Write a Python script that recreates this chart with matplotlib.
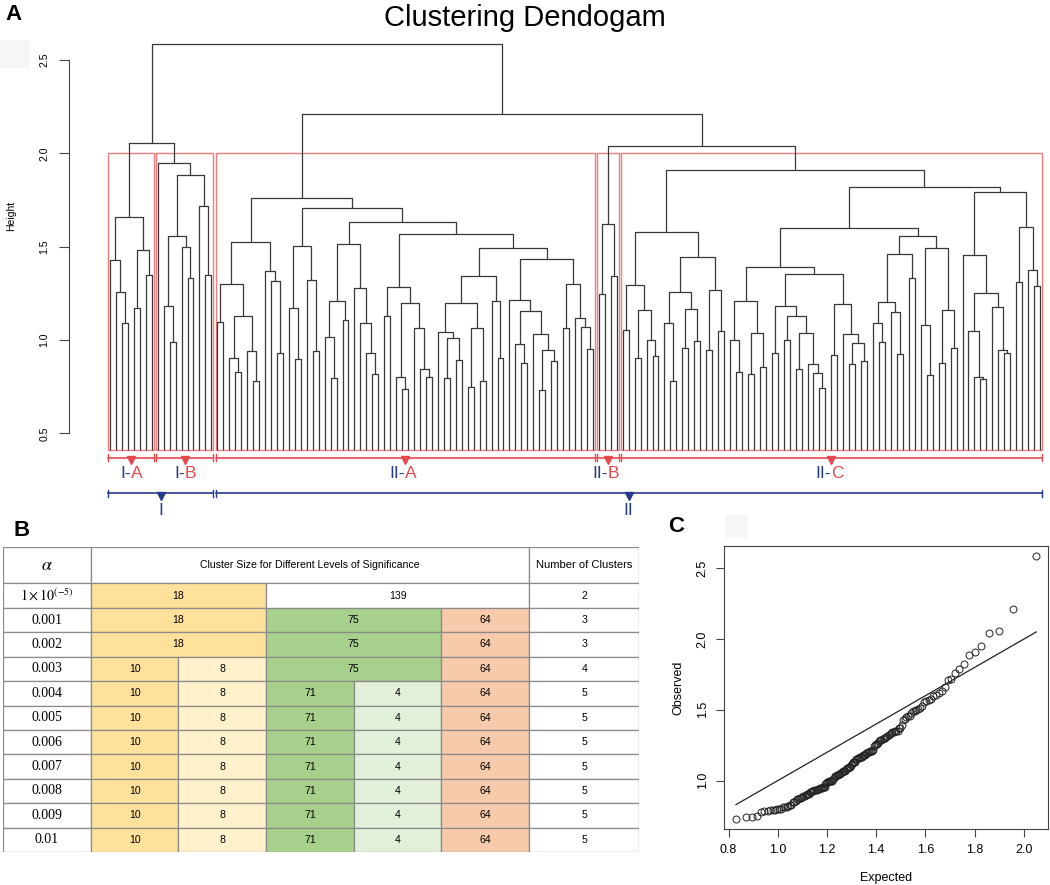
import numpy as np
import matplotlib.pyplot as plt
from matplotlib.patches import Rectangle
from matplotlib.collections import LineCollection
from statistics import NormalDist

plt.rcParams['font.family'] = ['Liberation Sans', 'DejaVu Sans']

# ---------------- data ----------------
# dendrogram subtrees: node = [height, left, right], leaf = 0
tree_IA = [1.66, [1.43, 0, [1.26, 0, [1.09, 0, 0]]],
                 [1.48, [1.17, 0, 0], [1.35, 0, 0]]]
tree_IB = [1.95, 0,
           [1.886, [1.56, [1.18, 0, [0.99, 0, 0]], [1.50, 0, [1.33, 0, 0]]],
                   [1.72, 0, [1.35, 0, 0]]]]

a_left = [1.527,
          [1.30, [1.098, 0, 0],
                 [1.129, [0.906, 0, [0.83, 0, 0]], [0.941, 0, [0.78, 0, 0]]]],
          [1.37, 0, [1.318, 0, [0.93, 0, 0]]]]
a_6 = [1.504, [1.17, 0, [0.90, 0, 0]], [1.32, 0, [0.94, 0, 0]]]
a_10 = [1.515, [1.21, [1.018, 0, [0.795, 0, 0]], [1.107, 0, 0]],
               [1.277, 0, [1.093, 0, [0.932, 0, [0.816, 0, 0]]]]]
a_9 = [1.286, [1.13, 0, 0],
              [1.197, [0.80, 0, [0.74, 0, 0]], [1.066, 0, [0.846, 0, [0.80, 0, 0]]]]]
a_12 = [1.343, [1.20, [1.045, 0, [1.013, [0.795, 0, 0], [0.893, 0, 0]]],
                      [1.066, [0.747, 0, 0], [0.782, 0, 0]]],
               [1.209, 0, [0.902, 0, 0]]]
a_15 = [1.432, [1.214, 0, [1.156, [0.979, 0, [0.879, 0, 0]],
                                  [1.03, 0, [0.947, [0.732, 0, 0], [0.89, 0, 0]]]]],
               [1.298, [1.063, 0, 0], [1.116, 0, [1.068, 0, [0.952, 0, 0]]]]]
tree_IIA = [1.76, a_left, [1.71, a_6, [1.63, a_10, [1.57, a_9, [1.491, a_12, a_15]]]]]

tree_IIB = [1.62, [1.245, 0, 0], [1.345, 0, 0]]

c_7 = [1.295, [1.054, 0, 0], [1.161, [0.902, 0, 0], [1.00, 0, [0.916, 0, 0]]]]
c_11 = [1.446, [1.259, [1.093, 0, [0.782, 0, 0]], [1.164, [0.955, 0, 0], [0.996, 0, 0]]],
               [1.268, [0.946, 0, 0], [1.048, 0, 0]]]
c_24 = [1.393,
        [1.211, [1.00, 0, [0.83, 0, 0]], [1.04, [0.816, 0, 0], [0.857, 0, 0]]],
        [1.354,
         [1.184, [0.932, 0, 0],
                 [1.129, [1.00, 0, 0],
                         [1.039, [0.846, 0, 0], [0.871, 0, [0.821, 0, [0.741, 0, 0]]]]]],
         [1.193, [0.918, 0, 0], [1.032, 0, [0.986, [0.87, 0, 0], [0.887, 0, 0]]]]]]
c_15 = [1.557,
        [1.459, [1.202, [1.089, 0, [0.987, 0, 0]], [1.152, 0, [0.923, 0, 0]]], [1.334, 0, 0]],
        [1.495, [1.08, 0, [0.813, 0, 0]], [1.161, [0.879, 0, 0], [0.955, 0, 0]]]]
c_14 = [1.791,
        [1.455, 0, [1.254, [1.05, 0, [0.80, 0, [0.79, 0, 0]]],
                           [1.179, 0, [0.946, 0, [0.929, 0, 0]]]]],
        [1.607, [1.309, 0, 0], [1.375, 0, [1.289, 0, 0]]]]
tree_IIC = [1.911, [1.58, c_7, c_11], [1.821, [1.598, c_24, c_15], c_14]]

h_I = 2.057
h_BC = 2.04
h_II = 2.21
h_root = 2.586
cut_height = 2.0

cluster_names = ['I-A', 'I-B', 'II-A', 'II-B', 'II-C']
cluster_trees = [tree_IA, tree_IB, tree_IIA, tree_IIB, tree_IIC]
group_names = ['I', 'II']
group_members = [[0, 1], [2, 3, 4]]

# table (panel B)
alpha_labels = [r'$1\times10^{(-5)}$', '0.001', '0.002', '0.003', '0.004', '0.005',
                '0.006', '0.007', '0.008', '0.009', '0.01']
size_rows = [[18, 139], [18, 75, 64], [18, 75, 64], [10, 8, 75, 64]] + [[10, 8, 71, 4, 64]] * 7
span_rows = [[2, 3], [2, 2, 1], [2, 2, 1], [1, 1, 2, 1]] + [[1, 1, 1, 1, 1]] * 7
n_clusters = [2, 3, 3, 4, 5, 5, 5, 5, 5, 5, 5]
size_colors = {18: '#fee29b', 10: '#fee29b', 8: '#fff1cc', 75: '#a8d08d', 71: '#a8d08d',
               4: '#e2efd9', 64: '#f7caac', 139: 'white'}

# QQ reference distribution (log-normal)
qq_mu = 0.266
qq_sigma = 0.1815

# ---------------- figure ----------------
W, H = 1050, 885
fig = plt.figure(figsize=(W / 100, H / 100), dpi=100)
red = '#e5484d'
box_red = '#f27c7c'
blue = '#26398c'

root = [h_root, [h_I, tree_IA, tree_IB], [h_II, tree_IIA, [h_BC, tree_IIB, tree_IIC]]]
leaf_base = 0.41

segs = []
heights = []
counter = [0]


def walk(node):
    if node == 0:
        counter[0] += 1
        return counter[0], leaf_base
    h, left, right = node
    xl, hl = walk(left)
    xr, hr = walk(right)
    segs.append([(xl, hl), (xl, h), (xr, h), (xr, hr)])
    heights.append(h)
    return (xl + xr) / 2, h


def n_leaves(node):
    return 1 if node == 0 else n_leaves(node[1]) + n_leaves(node[2])


walk(root)
n_total = counter[0]

# ---- panel A ----
axA = fig.add_axes([69 / W, 1 - 520 / H, 979 / W, 490 / H])
axA.add_collection(LineCollection(segs, colors='#383838', linewidths=0.9))
axA.set_xlim(-5.88, n_total + 1.34)
axA.set_ylim(0.036, 2.661)
for s in ['top', 'right', 'bottom']:
    axA.spines[s].set_visible(False)
axA.spines['left'].set_bounds(0.5, 2.5)
axA.spines['left'].set_color('#444444')
axA.set_xticks([])
axA.set_yticks([0.5, 1.0, 1.5, 2.0, 2.5])
axA.set_yticklabels(['0.5', '1.0', '1.5', '2.0', '2.5'], rotation=90, va='center', fontsize=7.5)
axA.tick_params(axis='y', length=7, pad=7, color='#444444')
axA.set_ylabel('Height', fontsize=7.5)
axA.yaxis.set_label_coords(-0.054, 0.62)

spans = []
start = 1
for t in cluster_trees:
    n = n_leaves(t)
    spans.append((start - 0.3, start + n - 1 + 0.3))
    start += n

y_br = 0.37
y_lab = 0.283
y_gbr = 0.178
y_glab = 0.088
tick_h = 0.02
for name, (a, b) in zip(cluster_names, spans):
    axA.add_patch(Rectangle((a, leaf_base), b - a, cut_height - leaf_base, fill=False,
                            edgecolor=box_red, linewidth=1.0))
    axA.plot([a, b], [y_br, y_br], color=red, lw=1.2)
    axA.plot([a, a], [y_br - tick_h, y_br + tick_h], color=red, lw=1.0)
    axA.plot([b, b], [y_br - tick_h, y_br + tick_h], color=red, lw=1.0)
    xc = (a + b) / 2
    axA.plot(xc, y_br - 0.013, marker='v', color=red, markersize=6)
    pre, suf = name.split('-')
    axA.text(xc, y_lab, pre + '-', color=blue, ha='right', va='center', fontsize=12.5)
    axA.text(xc, y_lab, suf, color=red, ha='left', va='center', fontsize=12.5)

for gname, members in zip(group_names, group_members):
    a = spans[members[0]][0]
    b = spans[members[-1]][1]
    axA.plot([a, b], [y_gbr, y_gbr], color=blue, lw=1.2)
    axA.plot([a, a], [y_gbr - tick_h, y_gbr + tick_h], color=blue, lw=1.0)
    axA.plot([b, b], [y_gbr - tick_h, y_gbr + tick_h], color=blue, lw=1.0)
    xc = (a + b) / 2
    axA.plot(xc, y_gbr - 0.013, marker='v', color=blue, markersize=6)
    axA.text(xc, y_glab, gname, color=blue, ha='center', va='center', fontsize=12.5)

fig.text(0.5, 1 - 18 / H, 'Clustering Dendogam', ha='center', va='center', fontsize=21)

# ---- panel B: table ----
axT = fig.add_axes([2.7 / W, 1 - 852 / H, 636.6 / W, 305.3 / H])
col_w = [88.0] + [87.7] * 5 + [110.1]
row_h = [36.7] + [24.4] * len(alpha_labels)
xe = np.concatenate([[0], np.cumsum(col_w)])
ye = np.concatenate([[0], np.cumsum(row_h)])
axT.set_xlim(0, xe[-1])
axT.set_ylim(ye[-1], 0)
axT.axis('off')
grid = '#8a8a8a'


def cell(c0, c1, r, txt, color='white', **kw):
    axT.add_patch(Rectangle((xe[c0], ye[r]), xe[c1] - xe[c0], ye[r + 1] - ye[r],
                            facecolor=color, edgecolor=grid, linewidth=0.9))
    axT.text((xe[c0] + xe[c1]) / 2, (ye[r] + ye[r + 1]) / 2, txt, ha='center', va='center', **kw)


cell(0, 1, 0, r'$\alpha$', fontsize=13, math_fontfamily='stix')
cell(1, 6, 0, 'Cluster Size for Different Levels of Significance', fontsize=7.6)
cell(6, 7, 0, 'Number of Clusters', fontsize=8)
for i, lab in enumerate(alpha_labels):
    r = i + 1
    cell(0, 1, r, lab, fontsize=10, family='Liberation Serif', math_fontfamily='stix')
    c = 1
    for v, sp in zip(size_rows[i], span_rows[i]):
        cell(c, c + sp, r, str(v), color=size_colors[v], fontsize=7.6)
        c += sp
    cell(6, 7, r, str(n_clusters[i]), fontsize=7.6)

# ---- panel C: QQ plot ----
obs = np.sort(np.array(heights))
nq = len(obs)
nd = NormalDist()
z = np.array([nd.inv_cdf(i / (nq + 1)) for i in range(1, nq + 1)])
expected = np.exp(qq_mu + qq_sigma * z)

axC = fig.add_axes([724 / W, 1 - 829 / H, 324.3 / W, 283.3 / H])
axC.plot(expected, obs, 'o', markerfacecolor='none', markeredgecolor='#222222',
         markersize=5, markeredgewidth=0.7)
lo, hi = expected.min(), expected.max()
axC.plot([lo, hi], [lo, hi], color='#222222', lw=0.9)
rx = hi - lo
ry = obs.max() - obs.min()
axC.set_xlim(lo - 0.04 * rx, hi + 0.04 * rx)
axC.set_ylim(obs.min() - 0.04 * ry, obs.max() + 0.04 * ry)
axC.set_xticks([0.8, 1.0, 1.2, 1.4, 1.6, 1.8, 2.0])
axC.set_xticklabels(['0.8', '1.0', '1.2', '1.4', '1.6', '1.8', '2.0'], fontsize=9)
axC.set_yticks([1.0, 1.5, 2.0, 2.5])
axC.set_yticklabels(['1.0', '1.5', '2.0', '2.5'], rotation=90, va='center', fontsize=9)
axC.tick_params(length=6, pad=5, color='#444444')
for s in axC.spines.values():
    s.set_color('#444444')
axC.set_xlabel('Expected', fontsize=9, labelpad=11)
axC.set_ylabel('Observed', fontsize=9, labelpad=9)

# panel letters and faint scan artefacts
fig.text(13 / W, 1 - 15 / H, 'A', fontsize=16, fontweight='bold', ha='center', va='center')
fig.text(22 / W, 1 - 530 / H, 'B', fontsize=16, fontweight='bold', ha='center', va='center')
fig.text(676 / W, 1 - 527 / H, 'C', fontsize=16, fontweight='bold', ha='center', va='center')
fig.patches.append(Rectangle((0, 1 - 68 / H), 30 / W, 28 / H, transform=fig.transFigure,
                             facecolor='#f6f6f6', edgecolor='none'))
fig.patches.append(Rectangle((725 / W, 1 - 538 / H), 23 / W, 23 / H, transform=fig.transFigure,
                             facecolor='#f6f6f6', edgecolor='none'))

fig.savefig('out.png', dpi=100)
